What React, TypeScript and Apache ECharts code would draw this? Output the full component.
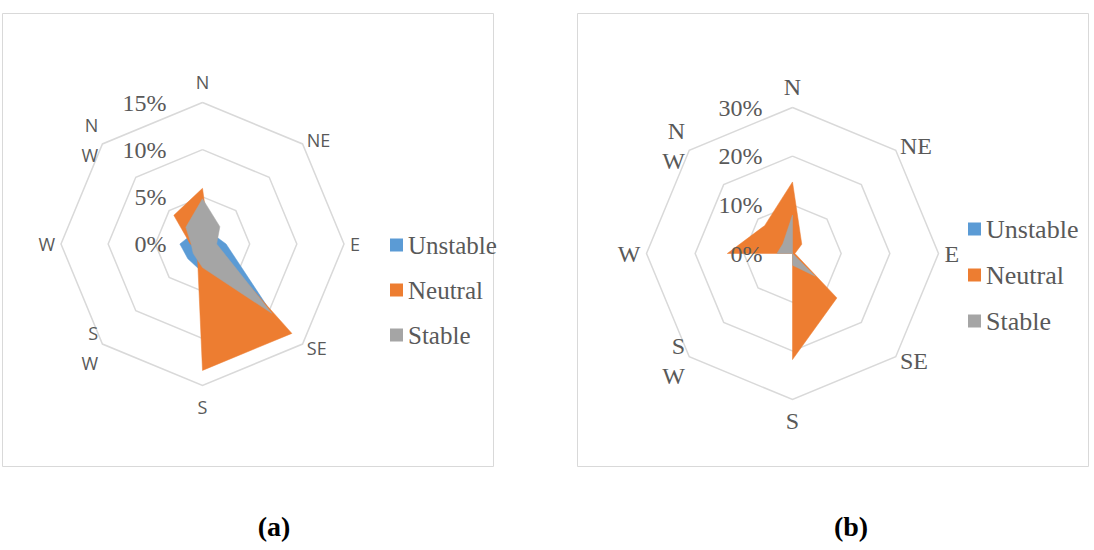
import React, { useEffect, useRef } from 'react';
import * as echarts from 'echarts';

// Compass directions (clockwise from north, as in the source)
const directions = ['N', 'NE', 'E', 'SE', 'S', 'SW', 'W', 'NW'];
const seriesNames = ['Unstable', 'Neutral', 'Stable'];
const colors = ['#5B9BD5', '#ED7D31', '#A5A5A5'];

// Panel (a) frequencies, %
const unstableA = [2.0, 1.5, 2.5, 10.4, 3.0, 2.2, 2.4, 1.5];
const neutralA = [5.9, 1.0, 1.0, 13.4, 13.4, 0.8, 1.3, 4.3];
const stableA = [4.8, 2.6, 1.5, 10.4, 2.5, 1.4, 1.2, 2.5];

// Panel (b) frequencies, %
const unstableB = [0, 0, 0, 0, 0, 0, 0, 0];
const neutralB = [14.7, 2.7, 0.5, 12.9, 21.8, 0, 13.4, 8.1];
const stableB = [7.9, 0, 0, 6.6, 2.4, 0, 3.2, 2.8];

// Radial tick labels
const ticksA = [0, 5, 10, 15];
const ticksB = [0, 10, 20, 30];

const captions = ['(a)', '(b)'];

// ECharts radar runs counter-clockwise; reorder compass list for it
const ccwOrder = [0, 7, 6, 5, 4, 3, 2, 1];

const nameFormatter = (name: string) => {
  if (name === 'N') return 'N\n ';
  if (name === 'S') return ' \nS';
  if (name === 'NW') return 'N\nW';
  if (name === 'SW') return 'S\nW';
  return name;
};

function buildRadar(center: number[], radius: number, ticks: number[], font: any) {
  const max = ticks[ticks.length - 1];
  return {
    center,
    radius,
    startAngle: 90,
    shape: 'polygon',
    splitNumber: ticks.length - 1,
    indicator: ccwOrder.map((i) => ({ name: directions[i], min: 0, max })),
    nameGap: 6,
    axisName: {
      color: '#595959',
      fontFamily: font.family,
      fontSize: font.size,
      lineHeight: 30,
      verticalAlign: 'middle',
      formatter: nameFormatter,
    },
    axisLine: { show: false },
    axisTick: { show: false },
    axisLabel: { show: false },
    splitLine: { lineStyle: { color: '#D9D9D9', width: 1.5 } },
    splitArea: { show: false },
  };
}

function buildSeries(radarIndex: number, groups: number[][]) {
  return {
    type: 'radar',
    radarIndex,
    symbol: 'none',
    lineStyle: { width: 0 },
    areaStyle: { opacity: 1 },
    data: groups.map((vals, k) => ({
      name: seriesNames[k],
      value: ccwOrder.map((i) => vals[i]),
      itemStyle: { color: colors[k] },
      lineStyle: { color: colors[k], width: 0.5 },
      areaStyle: { color: colors[k], opacity: 1 },
    })),
  };
}

function buildRadiusAxis(polarIndex: number, ticks: number[], margin: number, size: number) {
  return {
    polarIndex,
    type: 'value',
    min: ticks[0],
    max: ticks[ticks.length - 1],
    interval: ticks[1] - ticks[0],
    axisLine: { show: false },
    axisTick: { show: false },
    splitLine: { show: false },
    z: 10,
    axisLabel: {
      formatter: '{value}%',
      margin,
      fontSize: size,
      fontFamily: 'Liberation Serif',
      color: '#595959',
    },
  };
}

function buildLegend(left: number, top: number, size: number) {
  return {
    orient: 'vertical',
    left,
    top,
    itemWidth: 13,
    itemHeight: 13,
    itemGap: 20,
    icon: 'rect',
    selectedMode: false,
    data: seriesNames,
    textStyle: { fontFamily: 'Liberation Serif', fontSize: size, color: '#595959', lineHeight: 25 },
  };
}

export default function App() {
  const ref = useRef<HTMLDivElement>(null);
  useEffect(() => {
    if (!ref.current) return;
    const chart = echarts.init(ref.current, undefined, { renderer: 'svg' });
    const centerA = [202.5, 244];
    const centerB = [792.5, 253.5];
    const option: any = {
      animation: false,
      radar: [
        buildRadar(centerA, 141.5, ticksA, { family: 'Open Sans', size: 18 }),
        buildRadar(centerB, 146, ticksB, { family: 'Liberation Serif', size: 24 }),
      ],
      polar: [
        { center: centerA, radius: 141.5 },
        { center: centerB, radius: 146 },
      ],
      angleAxis: [
        { polarIndex: 0, type: 'value', min: 0, max: 360, startAngle: 90, show: false },
        { polarIndex: 1, type: 'value', min: 0, max: 360, startAngle: 90, show: false },
      ],
      radiusAxis: [
        buildRadiusAxis(0, ticksA, 36, 24),
        buildRadiusAxis(1, ticksB, 30, 24),
      ],
      legend: [buildLegend(385, 227.5, 25), buildLegend(963, 211, 26)],
      series: [
        buildSeries(0, [unstableA, neutralA, stableA]),
        buildSeries(1, [unstableB, neutralB, stableB]),
      ],
      graphic: [
        {
          type: 'rect',
          silent: true,
          z: -10,
          shape: { x: 2.5, y: 13.5, width: 491, height: 453 },
          style: { fill: 'none', stroke: '#D9D9D9', lineWidth: 1 },
        },
        {
          type: 'rect',
          silent: true,
          z: -10,
          shape: { x: 577.5, y: 13.5, width: 511, height: 453 },
          style: { fill: 'none', stroke: '#D9D9D9', lineWidth: 1 },
        },
        {
          type: 'text',
          x: 274,
          y: 526,
          style: {
            text: captions[0],
            font: 'bold 28px "Liberation Serif"',
            fill: '#000000',
            align: 'center',
            verticalAlign: 'middle',
          },
        },
        {
          type: 'text',
          x: 851,
          y: 526,
          style: {
            text: captions[1],
            font: 'bold 28px "Liberation Serif"',
            fill: '#000000',
            align: 'center',
            verticalAlign: 'middle',
          },
        },
      ],
    };
    chart.setOption(option);
    return () => chart.dispose();
  }, []);
  return (
    <div
      ref={ref}
      style={{ position: 'fixed', left: 0, top: 0, width: 1094, height: 550, background: '#ffffff' }}
    />
  );
}
